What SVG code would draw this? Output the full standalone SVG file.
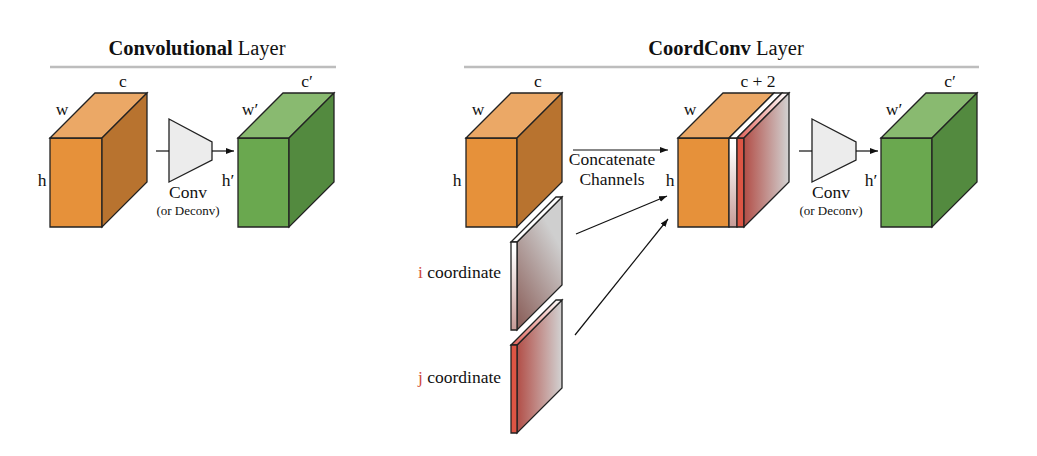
<svg xmlns="http://www.w3.org/2000/svg" width="1037" height="456" viewBox="0 0 1037 456">
<style>
.s{stroke:#222;stroke-width:1.3;stroke-linejoin:miter}
.of{fill:#E6913A}.ot{fill:#EBA866}.os{fill:#B8732F}
.gf{fill:#6AA84F}.gt{fill:#89BA70}.gs{fill:#538A3F}
.t{font-family:"Liberation Serif","Times New Roman",serif;fill:#111}
.lbl{font-size:17.5px}
.ttl{font-size:20.5px}
.sm{font-size:13px}
.cn{fill:none;stroke:#111;stroke-width:1.2}
.conv{fill:#ECECEC;stroke:#222;stroke-width:1.3}
.rule{stroke:#BDBDBD;stroke-width:2.5}
</style>
<defs>
<marker id="ah" markerWidth="8" markerHeight="6" refX="8" refY="3" orient="auto" markerUnits="userSpaceOnUse">
<path d="M0,0 L8,3 L0,6 z" fill="#111"/>
</marker>
<linearGradient id="iside" x1="0.8" y1="0" x2="0.2" y2="1">
<stop offset="0.2" stop-color="#CFCFCF"/>
<stop offset="1" stop-color="#8E6560"/>
</linearGradient>
<linearGradient id="ifront" x1="0" y1="0" x2="0" y2="1">
<stop offset="0.1" stop-color="#FFFFFF"/>
<stop offset="1" stop-color="#C69A96"/>
</linearGradient>
<linearGradient id="jside" x1="0" y1="0" x2="1" y2="0">
<stop offset="0" stop-color="#B24E47"/>
<stop offset="1" stop-color="#D2D2D2"/>
</linearGradient>
<linearGradient id="jtop" x1="0" y1="1" x2="1" y2="0">
<stop offset="0" stop-color="#E0625A"/>
<stop offset="1" stop-color="#FFFFFF"/>
</linearGradient>
</defs>

<g id="title-conv">
<text class="t ttl" x="197" y="55" text-anchor="middle"><tspan font-weight="bold">Convolutional</tspan> Layer</text>
<line class="rule" x1="50" y1="67" x2="336" y2="67"/>
</g>
<g id="title-coordconv">
<text class="t ttl" x="726" y="55" text-anchor="middle"><tspan font-weight="bold">CoordConv</tspan> Layer</text>
<line class="rule" x1="464" y1="67" x2="979" y2="67"/>
</g>

<g id="input-cube-left">
<polygon class="s of" points="50,138 102,138 102,227 50,227"/>
<polygon class="s ot" points="50,138 95,93 147,93 102,138"/>
<polygon class="s os" points="102,138 147,93 147,182 102,227"/>
<text class="t lbl" x="123" y="87" text-anchor="middle">c</text>
<text class="t lbl" x="62" y="115" text-anchor="middle">w</text>
<text class="t lbl" x="42" y="186" text-anchor="middle">h</text>
</g>

<g id="conv-left">
<polygon class="conv" points="169,119 212,142 212,160 169,182"/>
<text class="t lbl" x="188" y="198" text-anchor="middle">Conv</text>
<text class="t sm" x="188" y="215" text-anchor="middle">(or Deconv)</text>
</g>

<g id="output-cube-left">
<polygon class="s gf" points="238,138 289,138 289,227 238,227"/>
<polygon class="s gt" points="238,138 283,93 334,93 289,138"/>
<polygon class="s gs" points="289,138 334,93 334,182 289,227"/>
<text class="t lbl" x="307" y="87" text-anchor="middle">c′</text>
<text class="t lbl" x="250" y="115" text-anchor="middle">w′</text>
<text class="t lbl" x="228" y="186" text-anchor="middle">h′</text>
</g>

<g id="input-cube-right">
<polygon class="s of" points="466,138 517,138 517,227 466,227"/>
<polygon class="s ot" points="466,138 511,93 562,93 517,138"/>
<polygon class="s os" points="517,138 562,93 562,182 517,227"/>
<text class="t lbl" x="538" y="87" text-anchor="middle">c</text>
<text class="t lbl" x="478" y="115" text-anchor="middle">w</text>
<text class="t lbl" x="457" y="186" text-anchor="middle">h</text>
</g>

<g id="i-coordinate">
<polygon class="s" fill="url(#iside)" points="517,242 562,197 562,285 517,330"/>
<polygon class="s" fill="#FFFFFF" points="511,242 556,197 562,197 517,242"/>
<polygon class="s" fill="url(#ifront)" points="511,242 517,242 517,330 511,330"/>
<text class="t lbl" x="418" y="278"><tspan fill="#D04A3C">i</tspan> coordinate</text>
</g>

<g id="j-coordinate">
<polygon class="s" fill="url(#jside)" points="517,345 562,300 562,388 517,433"/>
<polygon class="s" fill="url(#jtop)" points="511,345 556,300 562,300 517,345"/>
<polygon class="s" fill="#DD5544" points="511,345 517,345 517,433 511,433"/>
<text class="t lbl" x="418" y="383"><tspan fill="#D04A3C">j</tspan> coordinate</text>
</g>

<g id="concat-cube">
<polygon class="s of" points="678,138 729,138 729,227 678,227"/>
<polygon class="s" fill="url(#ifront)" points="729,138 737,138 737,227 729,227"/>
<polygon class="s" fill="#DD5544" points="737,138 744,138 744,227 737,227"/>
<polygon class="s ot" points="678,138 723,93 774,93 729,138"/>
<polygon class="s" fill="#FFFFFF" points="729,138 774,93 782,93 737,138"/>
<polygon class="s" fill="url(#jtop)" points="737,138 782,93 789,93 744,138"/>
<polygon class="s" fill="url(#jside)" points="744,138 789,93 789,182 744,227"/>
<text class="t lbl" x="758" y="87" text-anchor="middle">c + 2</text>
<text class="t lbl" x="690" y="115" text-anchor="middle">w</text>
<text class="t lbl" x="670" y="186" text-anchor="middle">h</text>
</g>

<g id="conv-right">
<polygon class="conv" points="812,119 856,142 856,160 812,182"/>
<text class="t lbl" x="831" y="198" text-anchor="middle">Conv</text>
<text class="t sm" x="831" y="215" text-anchor="middle">(or Deconv)</text>
</g>

<g id="output-cube-right">
<polygon class="s gf" points="881,138 932,138 932,227 881,227"/>
<polygon class="s gt" points="881,138 926,93 977,93 932,138"/>
<polygon class="s gs" points="932,138 977,93 977,182 932,227"/>
<text class="t lbl" x="950" y="87" text-anchor="middle">c′</text>
<text class="t lbl" x="894" y="115" text-anchor="middle">w′</text>
<text class="t lbl" x="871" y="186" text-anchor="middle">h′</text>
</g>

<g id="connectors">
<line class="cn" x1="156" y1="151" x2="169" y2="151"/>
<line class="cn" x1="212" y1="151" x2="234" y2="151" marker-end="url(#ah)"/>
<line class="cn" x1="573" y1="150" x2="668" y2="150" marker-end="url(#ah)"/>
<text class="t lbl" x="612" y="165" text-anchor="middle">Concatenate</text>
<text class="t lbl" x="612" y="185" text-anchor="middle">Channels</text>
<line class="cn" x1="576" y1="234" x2="667" y2="196" marker-end="url(#ah)"/>
<line class="cn" x1="575" y1="335" x2="668" y2="219" marker-end="url(#ah)"/>
<line class="cn" x1="799" y1="151" x2="812" y2="151"/>
<line class="cn" x1="856" y1="151" x2="878" y2="151" marker-end="url(#ah)"/>
</g>
</svg>
